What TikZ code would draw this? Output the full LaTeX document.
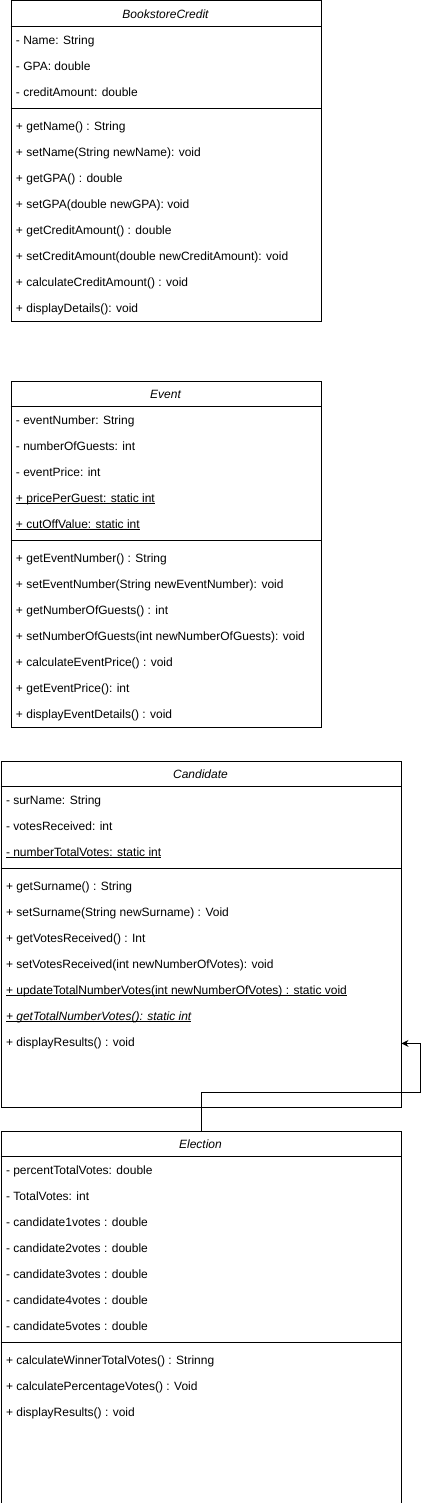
\documentclass[tikz,border=0pt]{standalone}
\usepackage{fontspec}
\setmainfont{Liberation Sans}
\usetikzlibrary{arrows.meta}

\newsavebox\ulbox
\newcommand\ulbar[1]{\sbox\ulbox{#1}\rlap{\vrule height -0.6pt depth 1.5pt width \wd\ulbox}\usebox\ulbox}

\begin{document}
\begin{tikzpicture}[x=1pt, y=-1pt, line width=1pt,
    classbox/.style={draw, inner sep=0pt, anchor=north west},
    classname/.style={font=\fontsize{12}{14}\selectfont\itshape, inner sep=0pt, anchor=base},
    member/.style={font=\fontsize{12}{14}\selectfont, inner sep=0pt, anchor=base west}]
\useasboundingbox (0,0) rectangle (429,1503);

% BookstoreCredit
\node[classbox, minimum width=310pt, minimum height=320pt] (book) at (10.5,0.5) {};
\node[classname] (bookname) at (165.5,18.5) {BookstoreCredit};
\draw (10.5,26.5) -- (320.5,26.5);
\draw (10.5,108.5) -- (320.5,108.5);
\foreach \m [count=\i from 0] in {- Name: String, - GPA: double, - creditAmount: double}
    \node[member] (booka\i) at (15.5,{44.5+26*\i}) {\m};
\foreach \m [count=\i from 0] in {+ getName() : String, + setName(String newName): void,
    + getGPA() : double, + setGPA(double newGPA): void, + getCreditAmount() : double,
    + setCreditAmount(double newCreditAmount): void, + calculateCreditAmount() : void,
    + displayDetails(): void}
    \node[member] (bookm\i) at (15.5,{130.5+26*\i}) {\m};

% Event
\node[classbox, minimum width=310pt, minimum height=346pt] (event) at (10.5,380.5) {};
\node[classname] (eventname) at (165.5,398.5) {Event};
\draw (10.5,406.5) -- (320.5,406.5);
\draw (10.5,540.5) -- (320.5,540.5);
\foreach \m [count=\i from 0] in {- eventNumber: String, - numberOfGuests: int, - eventPrice: int,
    {\ulbar{+ pricePerGuest: static int}}, {\ulbar{+ cutOffValue: static int}}}
    \node[member] (eventa\i) at (15.5,{424.5+26*\i}) {\m};
\foreach \m [count=\i from 0] in {+ getEventNumber() : String,
    + setEventNumber(String newEventNumber): void, + getNumberOfGuests() : int,
    + setNumberOfGuests(int newNumberOfGuests): void, + calculateEventPrice() : void,
    + getEventPrice(): int, + displayEventDetails() : void}
    \node[member] (eventm\i) at (15.5,{562.5+26*\i}) {\m};

% Candidate
\node[classbox, minimum width=400pt, minimum height=346pt] (cand) at (0.5,760.5) {};
\node[classname] (candname) at (200.5,778.5) {Candidate};
\draw (0.5,786.5) -- (400.5,786.5);
\draw (0.5,868.5) -- (400.5,868.5);
\foreach \m [count=\i from 0] in {- surName: String, - votesReceived: int,
    {\ulbar{- numberTotalVotes: static int}}}
    \node[member] (canda\i) at (5.5,{804.5+26*\i}) {\m};
\foreach \m [count=\i from 0] in {+ getSurname() : String,
    + setSurname(String newSurname) : Void, + getVotesReceived() : Int,
    + setVotesReceived(int newNumberOfVotes): void,
    {\ulbar{+ updateTotalNumberVotes(int newNumberOfVotes) : static void}},
    {\ulbar{\itshape + getTotalNumberVotes(): static int}}, + displayResults() : void}
    \node[member] (candm\i) at (5.5,{890.5+26*\i}) {\m};

% Election
\node[classbox, minimum width=400pt, minimum height=372pt] (elec) at (0.5,1130.5) {};
\node[classname] (elecname) at (200.5,1148.5) {Election};
\draw (0.5,1156.5) -- (400.5,1156.5);
\draw (0.5,1342.5) -- (400.5,1342.5);
\foreach \m [count=\i from 0] in {- percentTotalVotes: double, - TotalVotes: int,
    - candidate1votes : double, - candidate2votes : double, - candidate3votes : double,
    - candidate4votes : double, - candidate5votes : double}
    \node[member] (eleca\i) at (5.5,{1174.5+26*\i}) {\m};
\foreach \m [count=\i from 0] in {+ calculateWinnerTotalVotes() : Strinng,
    + calculatePercentageVotes() : Void, + displayResults() : void}
    \node[member] (elecm\i) at (5.5,{1364.5+26*\i}) {\m};

% link
\coordinate (turn) at (420,1092);
\draw[-{Stealth[length=7pt,width=7pt]}] (elec.north) |- (turn) |- (cand.east |- candm6);

\end{tikzpicture}
\end{document}
